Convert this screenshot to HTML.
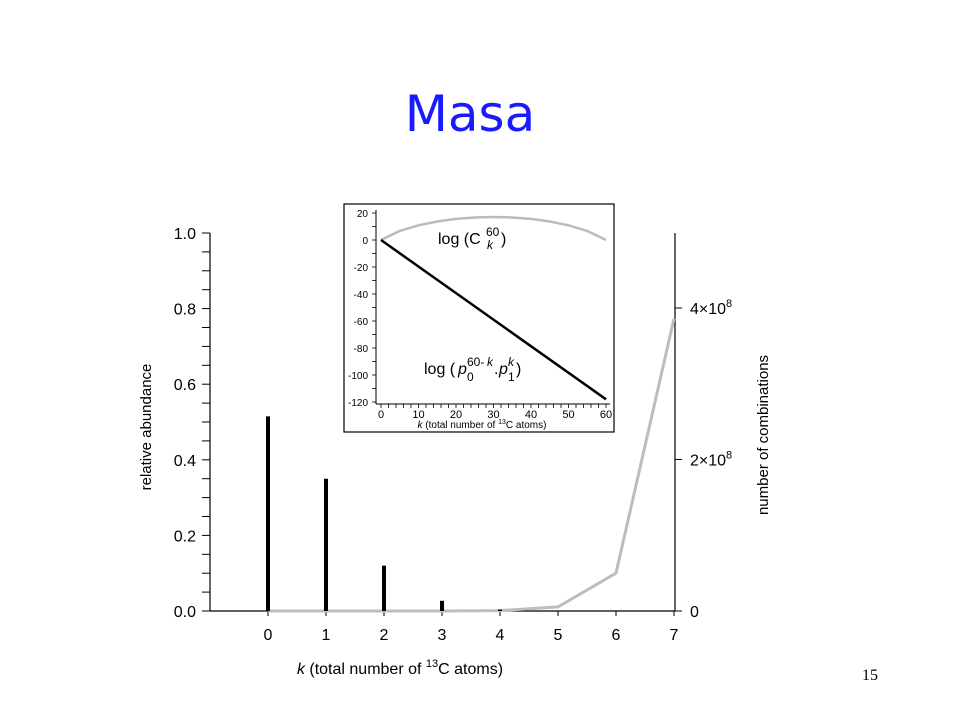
<!DOCTYPE html>
<html><head><meta charset="utf-8"><style>
body{margin:0;background:#fff;}
svg{display:block;font-family:"Liberation Sans",sans-serif;}
</style></head><body>
<svg width="960" height="720" viewBox="0 0 960 720">
<text x="470" y="131" text-anchor="middle" font-family="DejaVu Sans, sans-serif" font-size="50" fill="#1a1aff">Masa</text>
<text x="870" y="680" text-anchor="middle" font-family="Liberation Serif, serif" font-size="16">15</text>
<g id="main"></g>
<g id="inset"></g>
</svg>
<script>
const cats=[0,1,2,3,4,5,6,7];
const abundance=[0.515,0.35,0.12,0.027,0.004,0,0,0];
const combos=[1,60,1770,34220,487635,5.46e6,5.0e7,3.86e8];
const leftTicks=["0.0","0.2","0.4","0.6","0.8","1.0"];
const rightTicks=[0,2e8,4e8];
const rightLabels=["0","2×10","4×10"];
const insetK=[0,5,10,15,20,25,30,35,40,45,50,55,60];
const insetLogC=[0,6.74,10.88,13.72,15.62,16.71,17.07,16.71,15.62,13.72,10.88,6.74,0];
const insetProbK=[0,60];
const insetLogP=[0,-118];
const insetYTicks=[20,0,-20,-40,-60,-80,-100,-120];
const insetXTicks=[0,10,20,30,40,50,60];

const NS="http://www.w3.org/2000/svg";
function mk(parent,tag,attrs,text){const e=document.createElementNS(NS,tag);for(const k in attrs)e.setAttribute(k,attrs[k]);if(text!==undefined)e.textContent=text;parent.appendChild(e);return e;}
const main=document.getElementById('main');
const xS=k=>268+58*k, yL=v=>611-378*v, yR=v=>611-v*(303/4e8);
let e=mk(main,'line',{x1:210,y1:233,x2:210,y2:611,stroke:'#000','stroke-width':1.2});

for(let i=0;i<=20;i++){const y=yL(i*0.05);mk(main,'line',{x1:202,y1:y,x2:210,y2:y,stroke:'#000','stroke-width':1});}
leftTicks.forEach(t=>{const v=parseFloat(t);e=mk(main,'text',{x:196,y:yL(v)+6,'text-anchor':'end','font-size':16},t);
});
e=mk(main,'text',{transform:'translate(151,427) rotate(-90)','text-anchor':'middle','font-size':15},'relative abundance');

e=mk(main,'line',{x1:210,y1:611,x2:675,y2:611,stroke:'#000','stroke-width':1.2});

cats.forEach(k=>{mk(main,'line',{x1:xS(k),y1:611,x2:xS(k),y2:616,stroke:'#000'});
e=mk(main,'text',{x:xS(k),y:640,'text-anchor':'middle','font-size':16},String(k));
});
e=mk(main,'text',{x:400,y:674,'text-anchor':'middle','font-size':16});

e.innerHTML='<tspan font-style="italic">k</tspan> (total number of <tspan font-size="11" dy="-7">13</tspan><tspan dy="7">C atoms)</tspan>';
e=mk(main,'line',{x1:675,y1:233,x2:675,y2:611,stroke:'#000','stroke-width':1.2});

rightTicks.forEach((v,i)=>{const y=yR(v);mk(main,'line',{x1:675,y1:y,x2:682,y2:y,stroke:'#000'});
e=mk(main,'text',{x:690,y:y+6,'font-size':16});

e.textContent=rightLabels[i];if(i>0){mk(e,'tspan',{'font-size':11,dy:-7},'8');}});
e=mk(main,'text',{transform:'translate(768,435) rotate(-90)','text-anchor':'middle','font-size':15},'number of combinations');

e=mk(main,'polyline',{points:cats.map((k,i)=>xS(k)+','+yR(combos[i])).join(' '),fill:'none',stroke:'#bdbdbd','stroke-width':3});

cats.forEach((k,i)=>{if(abundance[i]<=0)return;e=mk(main,'line',{x1:xS(k),y1:611,x2:xS(k),y2:yL(abundance[i]),stroke:'#000','stroke-width':4});
});

const ins=document.getElementById('inset');
e=mk(ins,'rect',{x:344,y:204,width:270,height:228,fill:'#fff',stroke:'#000','stroke-width':1.2});

const ix=k=>381+k*(225/60), iy=v=>240-v*(189/140);
mk(ins,'line',{x1:376,y1:210,x2:376,y2:404,stroke:'#000'});
mk(ins,'line',{x1:376,y1:404,x2:610,y2:404,stroke:'#000'});
for(let v=20;v>=-120;v-=10){mk(ins,'line',{x1:372,y1:iy(v),x2:376,y2:iy(v),stroke:'#000','stroke-width':0.8});}
for(let k=0;k<=60;k+=2){mk(ins,'line',{x1:ix(k),y1:404,x2:ix(k),y2:408,stroke:'#000','stroke-width':0.8});}
insetYTicks.forEach(v=>{e=mk(ins,'text',{x:368,y:iy(v)+4,'text-anchor':'end','font-size':10},String(v));
});
insetXTicks.forEach(k=>{e=mk(ins,'text',{x:ix(k),y:418,'text-anchor':'middle','font-size':11},String(k));
});
e=mk(ins,'text',{x:482,y:428,'text-anchor':'middle','font-size':10});

e.innerHTML='<tspan font-style="italic">k</tspan> (total number of <tspan font-size="7" dy="-4">13</tspan><tspan dy="4">C atoms)</tspan>';
e=mk(ins,'polyline',{points:insetK.map((k,i)=>ix(k)+','+iy(insetLogC[i])).join(' '),fill:'none',stroke:'#bbb','stroke-width':2.5});

e=mk(ins,'polyline',{points:insetProbK.map((k,i)=>ix(k)+','+iy(insetLogP[i])).join(' '),fill:'none',stroke:'#000','stroke-width':2.5});

const g1=mk(ins,'g',{'font-size':16});

mk(g1,'text',{x:438,y:244},'log (C');
mk(g1,'text',{x:486,y:236,'font-size':12},'60');
mk(g1,'text',{x:487,y:249,'font-size':12,'font-style':'italic'},'k');
mk(g1,'text',{x:501,y:244},')');
const g2=mk(ins,'g',{'font-size':16});

mk(g2,'text',{x:424,y:374},'log (');
mk(g2,'text',{x:458,y:374,'font-style':'italic'},'p');
mk(g2,'text',{x:467,y:366,'font-size':12},'60-');
mk(g2,'text',{x:487,y:366,'font-size':12,'font-style':'italic'},'k');
mk(g2,'text',{x:467,y:381,'font-size':12},'0');
mk(g2,'text',{x:494,y:374},'.');
mk(g2,'text',{x:499,y:374,'font-style':'italic'},'p');
mk(g2,'text',{x:508,y:366,'font-size':12,'font-style':'italic'},'k');
mk(g2,'text',{x:508,y:381,'font-size':12},'1');
mk(g2,'text',{x:516,y:374},')');
</script>
</body></html>
